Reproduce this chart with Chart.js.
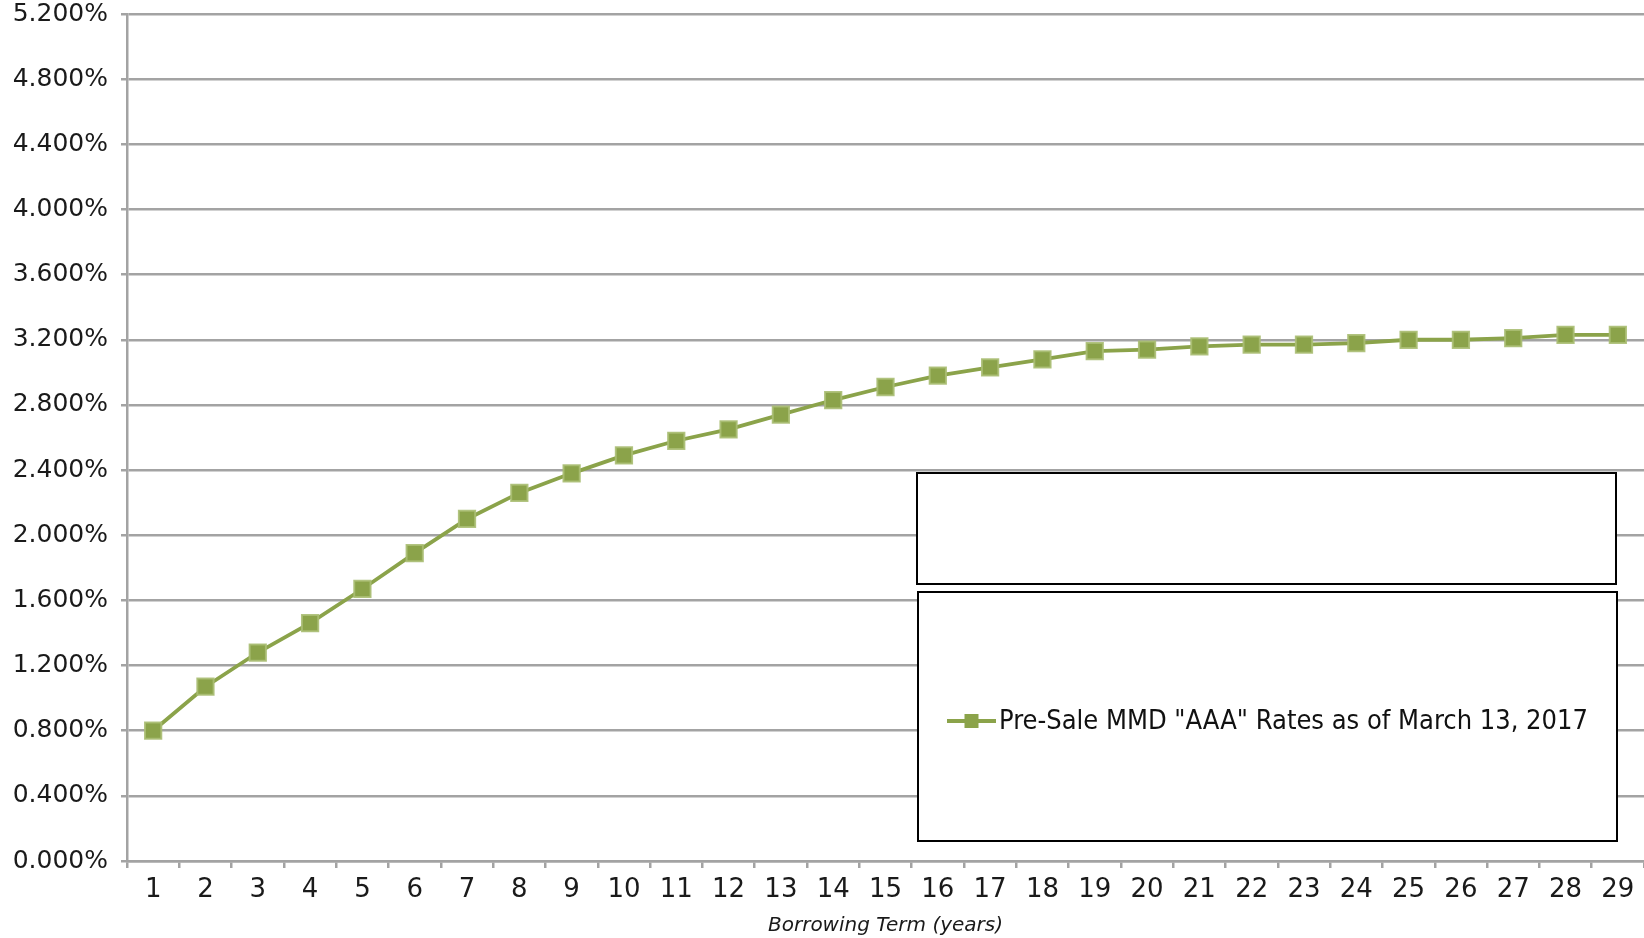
<!DOCTYPE html>
<html>
<head>
<meta charset="utf-8">
<script src="https://cdn.jsdelivr.net/npm/chart.js@4/dist/chart.umd.min.js"></script>
<style>
  html, body { margin: 0; padding: 0; background: #ffffff; }
  #wrap { width: 1644px; height: 938px; }
</style>
</head>
<body>
<div id="wrap"><canvas id="c" width="1644" height="938"></canvas></div>
<script>
const terms = ['1','2','3','4','5','6','7','8','9','10','11','12','13','14','15','16','17','18','19','20','21','22','23','24','25','26','27','28','29'];
const rates = [0.80,1.07,1.28,1.46,1.67,1.89,2.10,2.26,2.38,2.49,2.58,2.65,2.74,2.83,2.91,2.98,3.03,3.08,3.13,3.14,3.16,3.17,3.17,3.18,3.20,3.20,3.21,3.23,3.23];
const seriesLabel = 'Pre-Sale MMD "AAA" Rates as of March 13, 2017';
const axisTitle = 'Borrowing Term (years)';
const yMin = 0, yMax = 5.2, yStep = 0.4;

const green = '#8BA34A';
const gridGrey = '#a3a3a3';

const legendBoxes = {
  id: 'legendBoxes',
  afterDraw(chart) {
    const ctx = chart.ctx;
    const a = chart.chartArea;
    const W = a.right - a.left, H = a.bottom - a.top;
    const fx = v => a.left + v * W, fy = v => a.top + v * H;
    ctx.save();
    ctx.lineWidth = 2;
    ctx.strokeStyle = '#000';
    ctx.fillStyle = '#fff';
    // upper empty box
    let x1 = fx((917-127)/1517), x2 = fx((1616-127)/1517), y1 = fy((473-14)/847), y2 = fy((584-14)/847);
    ctx.fillRect(x1, y1, x2-x1, y2-y1);
    ctx.strokeRect(x1, y1, x2-x1, y2-y1);
    // lower legend box
    x1 = fx((918-127)/1517); x2 = fx((1617-127)/1517); y1 = fy((592-14)/847); y2 = fy((841-14)/847);
    ctx.fillStyle = '#fff';
    ctx.fillRect(x1, y1, x2-x1, y2-y1);
    ctx.strokeRect(x1, y1, x2-x1, y2-y1);
    // legend item
    const ly = fy((721-14)/847);
    const lx1 = fx((947-127)/1517), lx2 = fx((996-127)/1517);
    ctx.strokeStyle = green;
    ctx.lineWidth = 4;
    ctx.beginPath(); ctx.moveTo(lx1, ly); ctx.lineTo(lx2, ly); ctx.stroke();
    ctx.fillStyle = green;
    const cx = (lx1 + lx2) / 2;
    ctx.fillRect(cx - 7, ly - 7, 14, 14);
    ctx.fillStyle = '#111';
    ctx.font = '27px "DejaVu Sans Condensed", "Liberation Sans Narrow", Roboto, sans-serif';
    ctx.textBaseline = 'middle';
    ctx.textAlign = 'left';
    ctx.fillText(chart.data.datasets[0].label, lx2 + 3, ly + 1);
    ctx.restore();
  }
};

new Chart(document.getElementById('c'), {
  type: 'line',
  data: {
    labels: terms,
    datasets: [{
      label: seriesLabel,
      data: rates,
      borderColor: green,
      borderWidth: 3.8,
      backgroundColor: green,
      pointStyle: 'rect',
      pointRadius: 11.5,
      pointHoverRadius: 11.5,
      pointBackgroundColor: green,
      pointBorderColor: 'rgba(170,190,115,0.9)',
      pointBorderWidth: 2,
      tension: 0,
      fill: false,
      clip: false
    }]
  },
  options: {
    responsive: false,
    animation: false,
    devicePixelRatio: 1,
    layout: { autoPadding: false, padding: { top: 14, right: 0, bottom: 0, left: 0 } },
    plugins: {
      legend: { display: false },
      tooltip: { enabled: false }
    },
    scales: {
      x: {
        offset: true,
        grid: { offset: true, drawOnChartArea: false, drawTicks: true, tickLength: 7, color: gridGrey, lineWidth: 2.5 },
        border: { color: gridGrey, width: 2.5 },
        ticks: { color: '#1a1a1a', font: { family: '"DejaVu Sans", sans-serif', size: 26 }, padding: 7, maxRotation: 0, autoSkip: false },
        title: { display: true, text: axisTitle, color: '#1a1a1a', font: { family: '"DejaVu Sans", sans-serif', size: 20, style: 'italic' }, padding: { top: 2, bottom: 0 } },
        afterFit(s) { s.height = 77; s.paddingLeft = 0; s.paddingRight = 0; }
      },
      y: {
        min: yMin, max: yMax,
        grid: { color: gridGrey, lineWidth: 2.5, tickLength: 6 },
        border: { color: gridGrey, width: 2.5 },
        ticks: {
          stepSize: yStep,
          color: '#1a1a1a',
          font: { family: '"DejaVu Sans", sans-serif', size: 25 },
          padding: 13,
          callback: v => Number(v).toFixed(3) + '%'
        },
        afterFit(s) { s.width = 127; s.paddingTop = 0; s.paddingBottom = 0; }
      }
    }
  },
  plugins: [legendBoxes]
});
</script>
</body>
</html>
